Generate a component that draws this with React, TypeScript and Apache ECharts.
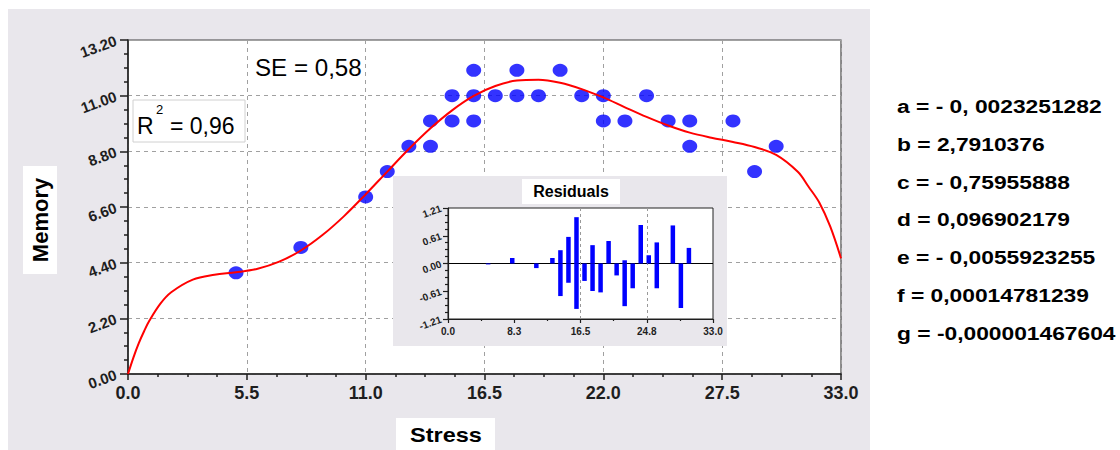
import React, { useEffect, useRef } from "react";
import * as echarts from "echarts";

const FONT = '"Liberation Sans", Arial, Helvetica, sans-serif';

// Observed data (Stress, Memory)
const stress = [5, 8, 11, 12, 13, 14, 14, 15, 15, 16, 16, 16, 17, 18, 18, 19, 20, 21, 22, 22, 23, 24, 25, 26, 26, 28, 29, 30];
const memory = [4, 5, 7, 8, 9, 9, 10, 10, 11, 10, 11, 12, 11, 11, 12, 11, 12, 11, 11, 10, 10, 11, 10, 10, 9, 10, 8, 9];

// Fitted curve
const curveX = [0, 0.25, 0.5, 0.75, 1, 1.5, 2, 3, 4, 5, 6, 7, 8, 9, 10, 11, 12, 13, 14, 15, 16, 17, 18, 19, 20, 21, 22, 23, 24, 25, 26, 27, 28, 29, 30, 31, 31.5, 32, 32.5, 33];
const curveY = [0, 0.65, 1.22, 1.7, 2.12, 2.78, 3.23, 3.73, 3.92, 4.02, 4.16, 4.44, 4.88, 5.49, 6.24, 7.1, 8.0, 8.89, 9.71, 10.42, 10.99, 11.38, 11.6, 11.63, 11.51, 11.26, 10.93, 10.54, 10.16, 9.82, 9.54, 9.34, 9.17, 8.97, 8.66, 7.99, 7.4, 6.77, 5.83, 4.57];

// Residuals
const residX = [5, 8, 11, 12, 13, 14, 14, 15, 15, 16, 16, 16, 17, 18, 18, 19, 20, 21, 22, 22, 23, 24, 25, 26, 26, 28, 29, 30];
const residY = [-0.02, 0.12, -0.1, 0.0, 0.12, -0.71, 0.29, -0.42, 0.58, -0.99, 0.01, 1.01, -0.38, -0.6, 0.4, -0.63, 0.49, -0.26, 0.07, -0.93, -0.54, 0.84, 0.18, 0.46, -0.54, 0.83, -0.97, 0.34];

// Tick labels
const xTickLabels = ["0.0", "5.5", "11.0", "16.5", "22.0", "27.5", "33.0"];
const yTickLabels = ["0.00", "2.20", "4.40", "6.60", "8.80", "11.00", "13.20"];
const residXTickLabels = ["0.0", "8.3", "16.5", "24.8", "33.0"];
const residYTickLabels = ["-1.21", "-0.61", "0.00", "0.61", "1.21"];

const paramLabels = [
  "a = - 0, 0023251282",
  "b = 2,7910376",
  "c = - 0,75955888",
  "d = 0,096902179",
  "e = - 0,0055923255",
  "f = 0,00014781239",
  "g = -0,000001467604",
];

const DARK = "#1e1e1e";
const PANEL = "#E9E7EC";

export default function App() {
  const ref = useRef<HTMLDivElement>(null);

  useEffect(() => {
    if (!ref.current) return;
    const chart = echarts.init(ref.current, undefined, { renderer: "svg" });

    const paramY = [106, 144, 182, 219, 257, 295, 333];

    const option: any = {
      animation: false,
      backgroundColor: "#ffffff",
      textStyle: { fontFamily: FONT },
      grid: [
        {
          left: 128, top: 40, width: 713, height: 334,
          show: true, backgroundColor: "#ffffff", borderColor: "#444", borderWidth: 1.2, z: 0,
        },
        {
          left: 448, top: 208, width: 265, height: 111,
          show: true, backgroundColor: "#ffffff", borderColor: "#222", borderWidth: 1, z: 4,
        },
      ],
      xAxis: [
        {
          gridIndex: 0, type: "value", min: 0, max: 33, interval: 5.5, z: 1,
          axisLine: { show: true, onZero: false, lineStyle: { color: DARK, width: 1.5 } },
          axisTick: { show: true, length: 6, lineStyle: { color: DARK, width: 1.5 } },
          minorTick: { show: true, splitNumber: 4, length: 3, lineStyle: { color: DARK, width: 1.5 } },
          splitLine: { show: true, lineStyle: { color: "#a0a0a0", type: [4, 4], width: 1 } },
          axisLabel: {
            fontSize: 18, fontWeight: "bold", color: DARK, margin: 10, fontFamily: FONT,
            formatter: (v: number) => xTickLabels[Math.round(v / 5.5)] ?? "",
          },
        },
        {
          gridIndex: 1, type: "value", min: 0, max: 33, interval: 8.25, z: 5,
          axisLine: { show: true, onZero: false, lineStyle: { color: DARK, width: 1.2 } },
          axisTick: { show: true, length: 4, lineStyle: { color: DARK, width: 1.2 } },
          minorTick: { show: true, splitNumber: 2, length: 2, lineStyle: { color: DARK, width: 1.2 } },
          splitLine: { show: false },
          axisLabel: {
            fontSize: 10, fontWeight: "bold", color: DARK, margin: 7, fontFamily: FONT,
            formatter: (v: number) => residXTickLabels[Math.round(v / 8.25)] ?? "",
          },
        },
      ],
      yAxis: [
        {
          gridIndex: 0, type: "value", min: 0, max: 13.2, interval: 2.2, z: 1,
          axisLine: { show: true, onZero: false, lineStyle: { color: DARK, width: 1.5 } },
          axisTick: { show: true, length: 8, lineStyle: { color: DARK, width: 1.5 } },
          minorTick: { show: true, splitNumber: 4, length: 4, lineStyle: { color: DARK, width: 1.5 } },
          splitLine: { show: true, lineStyle: { color: "#a0a0a0", type: [4, 4], width: 1 } },
          axisLabel: {
            fontSize: 15, fontWeight: "bold", color: DARK, margin: 12, rotate: 20, fontFamily: FONT,
            formatter: (v: number) => yTickLabels[Math.round(v / 2.2)] ?? "",
          },
        },
        {
          gridIndex: 1, type: "value", min: -1.21, max: 1.21, interval: 0.605, z: 5,
          axisLine: { show: true, onZero: false, lineStyle: { color: DARK, width: 1.2 } },
          axisTick: { show: true, length: 5, lineStyle: { color: DARK, width: 1.2 } },
          minorTick: { show: true, splitNumber: 4, length: 3, lineStyle: { color: DARK, width: 1.2 } },
          splitLine: { show: false },
          axisLabel: {
            fontSize: 10, fontWeight: "bold", color: DARK, margin: 7, rotate: 20, fontFamily: FONT,
            formatter: (v: number) => residYTickLabels[Math.round(v / 0.605) + 2] ?? "",
          },
        },
      ],
      series: [
        {
          name: "Observed",
          type: "scatter",
          xAxisIndex: 0, yAxisIndex: 0,
          data: stress.map((s, i) => [s, memory[i]]),
          symbol: "circle",
          symbolSize: [15, 13],
          itemStyle: { color: "#0000FF" },
          z: 2,
        },
        {
          name: "Fit",
          type: "line",
          xAxisIndex: 0, yAxisIndex: 0,
          data: curveX.map((x, i) => [x, curveY[i]]),
          showSymbol: false,
          smooth: 0.35,
          lineStyle: { color: "#FF0000", width: 2 },
          z: 3,
        },
        {
          name: "Residuals",
          type: "bar",
          xAxisIndex: 1, yAxisIndex: 1,
          data: residX.map((x, i) => [x, residY[i]]),
          barWidth: 4.5,
          itemStyle: { color: "#0000FF" },
          z: 6,
          markLine: {
            silent: true,
            symbol: "none",
            label: { show: false },
            animation: false,
            data: [
              { yAxis: 0, lineStyle: { color: "#000", type: "solid", width: 1.2 } },
              { xAxis: 16.5, lineStyle: { color: "#999", type: [3, 3], width: 1 } },
              { xAxis: 24.75, lineStyle: { color: "#999", type: [3, 3], width: 1 } },
            ],
          },
        },
      ],
      graphic: [
        { type: "rect", z: -10, shape: { x: 8, y: 9, width: 862, height: 445 }, style: { fill: PANEL } },
        // Memory label
        { type: "rect", z: 5, shape: { x: 23, y: 166, width: 34, height: 108 }, style: { fill: "#fff" } },
        {
          type: "text", z: 6, x: 40, y: 220, rotation: Math.PI / 2,
          style: { text: "Memory", fontSize: 22, fontWeight: "bold", fill: "#000", fontFamily: FONT, align: "center", verticalAlign: "middle" },
        },
        // Stress label
        { type: "rect", z: 5, shape: { x: 396, y: 418, width: 99, height: 40 }, style: { fill: "#fff" } },
        {
          type: "text", z: 6, x: 446, y: 435, scaleX: 1.12,
          style: { text: "Stress", fontSize: 21, fontWeight: "bold", fill: "#000", fontFamily: FONT, align: "center", verticalAlign: "middle" },
        },
        // R^2 box
        { type: "rect", z: 5, shape: { x: 133, y: 100, width: 112, height: 42 }, style: { fill: "#fff", stroke: "#d0d0d0", lineWidth: 1 } },
        {
          type: "text", z: 6, x: 137, y: 126,
          style: { text: "R", fontSize: 23, fill: "#000", fontFamily: FONT, align: "left", verticalAlign: "middle" },
        },
        {
          type: "text", z: 6, x: 156, y: 109,
          style: { text: "2", fontSize: 13, fill: "#000", fontFamily: FONT, align: "left", verticalAlign: "middle" },
        },
        {
          type: "text", z: 6, x: 170, y: 126,
          style: { text: "= 0,96", fontSize: 23, fill: "#000", fontFamily: FONT, align: "left", verticalAlign: "middle" },
        },
        // SE
        {
          type: "text", z: 6, x: 255, y: 68, scaleX: 1.05,
          style: { text: "SE = 0,58", fontSize: 23, fill: "#000", fontFamily: FONT, align: "left", verticalAlign: "middle" },
        },
        // Inset panel
        { type: "rect", z: 3, shape: { x: 393, y: 176, width: 334, height: 170 }, style: { fill: PANEL } },
        { type: "rect", z: 7, shape: { x: 522, y: 179, width: 98, height: 25 }, style: { fill: "#fff" } },
        {
          type: "text", z: 8, x: 571, y: 191.5,
          style: { text: "Residuals", fontSize: 16, fontWeight: "bold", fill: "#000", fontFamily: FONT, align: "center", verticalAlign: "middle" },
        },
        // Parameters
        ...paramLabels.map((t, i) => ({
          type: "text", z: 10, x: 897, y: paramY[i], scaleX: 1.2,
          style: { text: t, fontSize: 19, fontWeight: "bold", fill: "#000", fontFamily: FONT, align: "left", verticalAlign: "middle" },
        })),
      ],
    };

    chart.setOption(option);
    return () => chart.dispose();
  }, []);

  return (
    <div
      ref={ref}
      style={{ position: "absolute", left: 0, top: 0, width: 1120, height: 450 }}
    />
  );
}
